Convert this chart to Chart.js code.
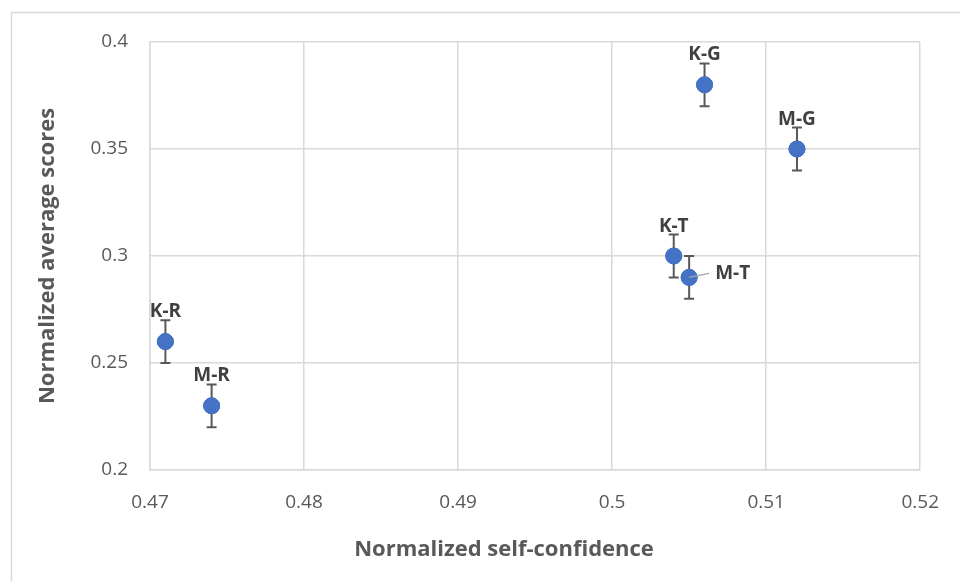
<!DOCTYPE html>
<html>
<head>
<meta charset="utf-8">
<script src="https://cdn.jsdelivr.net/npm/chart.js@4"></script>
<style>
  html, body { margin: 0; padding: 0; background: #fff; }
  #wrap { width: 960px; height: 581px; position: relative; }
</style>
</head>
<body>
<div id="wrap"><canvas id="scoreChart" width="960" height="581"></canvas></div>
<script>
const names = ['K-R', 'M-R', 'K-T', 'M-T', 'K-G', 'M-G']
const confidence = [0.471, 0.474, 0.504, 0.505, 0.506, 0.512]
const scores = [0.26, 0.23, 0.30, 0.29, 0.38, 0.35]
const errors = [0.01, 0.01, 0.01, 0.01, 0.01, 0.01]
// where each label sits relative to its point: 'top' or 'right'
const labelSide = ['top', 'top', 'top', 'right', 'top', 'top']

const font = 'Open Sans'
const fmt = v => String(Number(v.toFixed(3)))

// error bars, point labels, axis titles and outer frame
const decorations = {
    id: 'decorations',
    beforeDraw(chart) {
        const { ctx } = chart
        ctx.save()
        ctx.strokeStyle = '#d9d9d9'
        ctx.lineWidth = 1.5
        ctx.strokeRect(11.5, 12.5, 960, 600)
        ctx.restore()
    },
    afterDatasetsDraw(chart) {
        const { ctx, scales: { x, y } } = chart
        ctx.save()
        ctx.strokeStyle = '#595959'
        ctx.lineWidth = 2
        names.forEach((n, i) => {
            const px = x.getPixelForValue(confidence[i])
            const top = y.getPixelForValue(scores[i] + errors[i])
            const bot = y.getPixelForValue(scores[i] - errors[i])
            ctx.beginPath()
            ctx.moveTo(px, top); ctx.lineTo(px, bot)
            ctx.moveTo(px - 5, top); ctx.lineTo(px + 5, top)
            ctx.moveTo(px - 5, bot); ctx.lineTo(px + 5, bot)
            ctx.stroke()
        })
        // redraw points over error bars
        const meta = chart.getDatasetMeta(0)
        meta.data.forEach(el => el.draw(ctx, chart.chartArea))

        ctx.fillStyle = '#404040'
        ctx.font = `bold 19px "${font}"`
        names.forEach((n, i) => {
            const px = x.getPixelForValue(confidence[i])
            const py = y.getPixelForValue(scores[i])
            if (labelSide[i] === 'right') {
                ctx.strokeStyle = '#a6a6a6'
                ctx.lineWidth = 1.2
                ctx.beginPath()
                ctx.moveTo(px, py); ctx.lineTo(px + 20, py - 4)
                ctx.stroke()
                ctx.textAlign = 'left'
                ctx.textBaseline = 'middle'
                ctx.fillText(n, px + 26, py - 4)
            } else {
                const top = y.getPixelForValue(scores[i] + errors[i])
                ctx.textAlign = 'center'
                ctx.textBaseline = 'bottom'
                ctx.fillText(n, px, top + 1)
            }
        })

        ctx.fillStyle = '#595959'
        ctx.font = `bold 22px "${font}"`
        ctx.textAlign = 'center'
        ctx.textBaseline = 'middle'
        ctx.fillText('Normalized self-confidence', 504, 550)
        ctx.translate(48, (y.top + y.bottom) / 2)
        ctx.rotate(-Math.PI / 2)
        ctx.fillText('Normalized average scores', 0, 0)
        ctx.restore()
    }
}

const config = {
    type: 'scatter',
    data: {
        datasets: [{
            data: confidence.map((c, i) => ({ x: c, y: scores[i] })),
            backgroundColor: '#4472c4',
            borderColor: '#4472c4',
            pointRadius: 8,
            pointHoverRadius: 8,
        }]
    },
    options: {
        responsive: false,
        animation: false,
        layout: { padding: { top: 42, right: 39, left: 0, bottom: 0 } },
        scales: {
            x: {
                min: 0.47,
                max: 0.52,
                afterFit: s => { s.height = 111 },
                grid: { color: '#d9d9d9', lineWidth: 1.5, drawTicks: false },
                border: { color: '#d9d9d9', width: 1.5 },
                ticks: {
                    stepSize: 0.01,
                    padding: 21,
                    color: '#595959',
                    font: { family: font, size: 19 },
                    callback: v => fmt(v)
                }
            },
            y: {
                min: 0.2,
                max: 0.4,
                afterFit: s => { s.width = 150 },
                grid: { color: '#d9d9d9', lineWidth: 1.5, drawTicks: false },
                border: { color: '#d9d9d9', width: 1.5 },
                ticks: {
                    stepSize: 0.05,
                    padding: 22,
                    color: '#595959',
                    font: { family: font, size: 19 },
                    callback: v => fmt(v)
                }
            }
        },
        plugins: {
            legend: { display: false },
            tooltip: { enabled: false }
        }
    },
    plugins: [decorations]
}

const ctx = document.getElementById('scoreChart').getContext('2d')
const scoreChart = new Chart(ctx, config)
</script>
</body>
</html>
